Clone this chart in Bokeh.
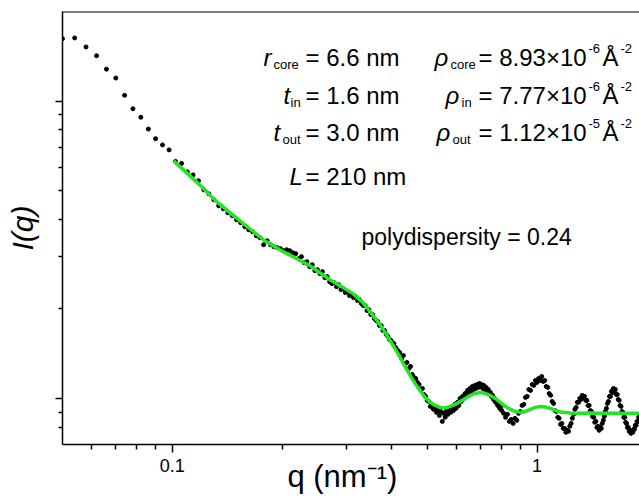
from bokeh.plotting import figure
from bokeh.models import Label, Span, FixedTicker, Range1d
from bokeh.embed import file_html
from bokeh.resources import INLINE

# ---------------- data ----------------
q_low = [0.050, 0.054, 0.058, 0.062, 0.066, 0.070, 0.074, 0.078, 0.082, 0.086,
         0.090, 0.094, 0.098]
I_low = [16.2, 16.3, 15.2, 14.2, 12.8, 11.95, 10.45, 9.42, 8.82, 8.05,
         7.47, 7.12, 6.85]

q_mid = [0.102, 0.106, 0.110, 0.114, 0.118, 0.122, 0.126, 0.130, 0.134, 0.138,
         0.142, 0.146, 0.150, 0.154, 0.158, 0.162, 0.166, 0.170, 0.174, 0.178,
         0.182, 0.186, 0.190, 0.194, 0.198, 0.202, 0.206, 0.210, 0.214, 0.218,
         0.222, 0.226, 0.230, 0.234, 0.238, 0.242, 0.246, 0.250, 0.254, 0.258,
         0.262, 0.266, 0.270, 0.274, 0.278, 0.282, 0.286, 0.290, 0.294, 0.298,
         0.302, 0.306, 0.310, 0.314, 0.318, 0.322, 0.326, 0.330, 0.334, 0.338,
         0.342, 0.346, 0.350, 0.354, 0.358, 0.362, 0.366, 0.370, 0.374, 0.378,
         0.382, 0.386, 0.390, 0.394, 0.398]
I_mid = [6.267, 6.171, 5.778, 5.645, 5.390, 5.028, 4.875, 4.654, 4.443, 4.341,
         4.209, 4.113, 3.988, 3.897, 3.778, 3.691, 3.635, 3.524, 3.470, 3.287,
         3.390, 3.287, 3.236, 3.211, 3.187, 3.138, 3.162, 3.138, 3.090, 3.066,
         2.950, 2.996, 2.860, 2.882, 2.773, 2.816, 2.689, 2.709, 2.627, 2.668,
         2.547, 2.567, 2.470, 2.432, 2.451, 2.376, 2.413, 2.322, 2.340, 2.269,
         2.286, 2.217, 2.234, 2.183, 2.200, 2.133, 2.149, 2.084, 2.052, 2.052,
         1.974, 1.989, 1.914, 1.914, 1.856, 1.828, 1.813, 1.758, 1.758, 1.692,
         1.692, 1.640, 1.615, 1.578, 1.566]

q_dip = [0.405, 0.410, 0.415, 0.420, 0.425, 0.430, 0.435, 0.440, 0.445, 0.450,
         0.455, 0.460, 0.465, 0.470, 0.475, 0.480, 0.485, 0.490, 0.495, 0.500,
         0.505, 0.510, 0.515, 0.520, 0.525, 0.530, 0.535, 0.540, 0.545, 0.550,
         0.555, 0.560, 0.565, 0.570, 0.575, 0.580, 0.585, 0.590, 0.595, 0.600,
         0.605, 0.610, 0.615, 0.620, 0.625, 0.630, 0.635, 0.640, 0.645, 0.650,
         0.655, 0.660, 0.665, 0.670, 0.675, 0.680, 0.685, 0.690, 0.695, 0.700,
         0.705, 0.710, 0.715, 0.720, 0.725, 0.730, 0.735, 0.740, 0.745, 0.750,
         0.755, 0.760, 0.765, 0.770, 0.775, 0.780, 0.785, 0.790, 0.795, 0.800]
I_dip = [1.530, 1.483, 1.449, 1.427, 1.362, 1.394, 1.311, 1.321, 1.261, 1.281,
         1.204, 1.176, 1.167, 1.132, 1.114, 1.072, 1.080, 1.031, 1.016, 0.985,
         0.977, 0.940, 0.955, 0.919, 0.933, 0.898, 0.911, 0.877, 0.904, 0.837,
         0.891, 0.864, 0.911, 0.884, 0.919, 0.898, 0.933, 0.911, 0.955, 0.926,
         0.970, 0.947, 1.000, 0.977, 1.016, 1.000, 1.039, 1.024, 1.064, 1.039,
         1.080, 1.056, 1.097, 1.072, 1.106, 1.080, 1.114, 1.089, 1.123, 1.097,
         1.114, 1.080, 1.106, 1.072, 1.089, 1.056, 1.072, 1.039, 1.048, 1.016,
         1.024, 0.992, 1.000, 0.970, 0.977, 0.947, 0.955, 0.926, 0.933, 0.911]

q_high = [0.81, 0.82, 0.83, 0.84, 0.85, 0.86, 0.87, 0.88, 0.89, 0.90,
          0.91, 0.92, 0.93, 0.94, 0.95, 0.96, 0.97, 0.98, 0.99, 1.00,
          1.01, 1.02, 1.03, 1.04, 1.05, 1.06, 1.07, 1.08, 1.09, 1.10,
          1.11, 1.12, 1.13, 1.14, 1.15, 1.16, 1.17, 1.18, 1.19, 1.20,
          1.21, 1.22, 1.23, 1.24, 1.25, 1.26, 1.27, 1.28, 1.29, 1.30,
          1.31, 1.32, 1.33, 1.34, 1.35, 1.36, 1.37, 1.38, 1.39, 1.40,
          1.41, 1.42, 1.43, 1.44, 1.45, 1.46, 1.47, 1.48, 1.49, 1.50,
          1.51, 1.52, 1.53, 1.54, 1.55, 1.56, 1.57, 1.58, 1.59, 1.60,
          1.61, 1.62, 1.63, 1.64, 1.65, 1.66, 1.67, 1.68, 1.69, 1.70,
          1.71, 1.72, 1.73, 1.74, 1.75, 1.76, 1.77, 1.78, 1.79, 1.80,
          1.81, 1.82, 1.83, 1.84, 1.85, 1.86, 1.87, 1.88, 1.89, 1.90]
I_high = [0.891, 0.864, 0.884, 0.837, 0.850, 0.824, 0.857, 0.844, 0.891, 0.904,
          0.947, 0.955, 1.008, 1.016, 1.072, 1.064, 1.114, 1.106, 1.149, 1.132,
          1.167, 1.149, 1.185, 1.140, 1.149, 1.097, 1.089, 1.039, 1.024, 0.977,
          0.962, 0.911, 0.904, 0.864, 0.857, 0.818, 0.824, 0.793, 0.793, 0.769,
          0.781, 0.775, 0.806, 0.824, 0.857, 0.884, 0.919, 0.933, 0.970, 0.970,
          1.000, 0.992, 1.024, 1.008, 1.016, 0.985, 0.985, 0.947, 0.947, 0.911,
          0.904, 0.870, 0.864, 0.831, 0.837, 0.799, 0.806, 0.781, 0.799, 0.793,
          0.824, 0.844, 0.870, 0.904, 0.926, 0.962, 0.977, 1.016, 1.016, 1.056,
          1.048, 1.080, 1.056, 1.072, 1.031, 1.031, 0.992, 0.985, 0.947, 0.940,
          0.904, 0.898, 0.864, 0.864, 0.831, 0.824, 0.799, 0.799, 0.775, 0.781,
          0.763, 0.775, 0.769, 0.787, 0.787, 0.812, 0.812, 0.837, 0.837, 0.864]

q_fit = [0.1008, 0.1081, 0.1189, 0.1307, 0.1464, 0.1631, 0.1793, 0.1972, 0.2168,
         0.2384, 0.2540, 0.2706, 0.2883, 0.3129, 0.3313, 0.3486, 0.3713, 0.3879,
         0.4081, 0.4214, 0.4346, 0.4489, 0.4631, 0.4782, 0.4934, 0.5095, 0.5256,
         0.5427, 0.5600, 0.5782, 0.5965, 0.6159, 0.6355, 0.6562, 0.6769, 0.6990,
         0.7212, 0.7446, 0.7683, 0.7932, 0.8184, 0.8450, 0.8718, 0.9001, 0.9288,
         0.9589, 0.9893, 1.021, 1.054, 1.088, 1.123, 1.159, 1.235, 1.315, 1.401,
         1.493, 1.694, 1.910]
I_fit = [6.291, 5.822, 5.226, 4.654, 4.144, 3.720, 3.390, 3.162, 2.973,
         2.795, 2.647, 2.508, 2.395, 2.251, 2.116, 1.958, 1.771, 1.627,
         1.472, 1.373, 1.281, 1.195, 1.123, 1.064, 1.008, 0.970, 0.947,
         0.933, 0.929, 0.940, 0.955, 0.977, 1.000, 1.024, 1.039, 1.048,
         1.039, 1.024, 1.000, 0.970, 0.940, 0.919, 0.904, 0.898, 0.904,
         0.919, 0.933, 0.940, 0.936, 0.926, 0.911, 0.901, 0.894, 0.891, 0.894,
         0.891, 0.891, 0.891]

x_major = [0.1, 1]
x_minor = [0.06, 0.07, 0.08, 0.09, 0.2, 0.3, 0.4, 0.5, 0.6, 0.7, 0.8, 0.9]
y_major = [1, 10]
y_minor = [0.8, 0.9, 2, 3, 4, 5, 6, 7, 8, 9]

q_data = q_low + q_mid + q_dip + q_high
I_data = I_low + I_mid + I_dip + I_high

# ---------------- figure ----------------
FONT = "Liberation Sans"
p = figure(width=639, height=499, x_axis_type="log", y_axis_type="log",
           x_range=Range1d(0.05, 1.91), y_range=Range1d(0.7, 20),
           output_backend="svg", toolbar_location=None,
           min_border_left=62, min_border_right=0, min_border_top=11,
           min_border_bottom=55)
p.outline_line_color = None
p.background_fill_color = "white"
p.border_fill_color = "white"
p.xgrid.visible = False
p.ygrid.visible = False

p.scatter(q_data, I_data, size=4, color="black", marker="circle")
p.line(q_fit, I_fit, line_color="#22e622", line_width=3.5)

p.add_layout(Span(location=20, dimension="width", line_color="black",
                  line_width=2))

xa = p.xaxis[0]
xa.ticker = FixedTicker(ticks=x_major, minor_ticks=x_minor)
xa.major_label_overrides = {0.1: "0.1", 1: "1"}
xa.major_label_text_font = FONT
xa.major_label_text_font_size = "18px"
xa.major_label_text_color = "black"
xa.major_label_standoff = 6
xa.major_tick_out = 8
xa.major_tick_in = 0
xa.minor_tick_out = 5
xa.minor_tick_in = 0
xa.axis_label = "q (nm\u207b\u00b9)\u00a0\u00a0"
xa.axis_label_text_font = FONT
xa.axis_label_text_font_size = "31px"
xa.axis_label_text_font_style = "normal"
xa.axis_label_text_color = "black"
xa.axis_label_standoff = -16

ya = p.yaxis[0]
ya.ticker = FixedTicker(ticks=y_major, minor_ticks=y_minor)
ya.major_label_text_font_size = "0px"
ya.major_label_text_color = None
ya.major_tick_out = 7
ya.major_tick_in = 0
ya.minor_tick_out = 4
ya.minor_tick_in = 0
ya.axis_label = "I(q)"
ya.axis_label_text_font = FONT
ya.axis_label_text_font_size = "30px"
ya.axis_label_text_font_style = "italic"
ya.axis_label_text_color = "black"
ya.axis_label_standoff = 17

for ax in (xa, ya):
    ax.axis_line_width = 1.5
    ax.axis_line_color = "black"
    ax.major_tick_line_width = 1.5
    ax.minor_tick_line_width = 1.5
    ax.major_tick_line_color = "black"
    ax.minor_tick_line_color = "black"

FL, FB = 62, 444  # frame left / bottom in page pixels


def lab(text, X, Yb, size, style="normal", align="left"):
    p.add_layout(Label(x=X - FL, y=FB - Yb, x_units="screen", y_units="screen",
                       text=text, text_font=FONT, text_font_size=f"{size}px",
                       text_font_style=style, text_align=align,
                       text_baseline="alphabetic", text_color="black"))


M, S, U = 24, 13, 13
# left column
lab("r", 263, 57, M, "italic")
lab("core", 273, 64, S)
lab("= 6.6 nm", 305, 57, M)
lab("t", 283, 95, M, "italic")
lab("in", 290, 102, S)
lab("= 1.6 nm", 305, 95, M)
lab("t", 273, 132, M, "italic")
lab("out", 282, 139, S)
lab("= 3.0 nm", 305, 132, M)
lab("L", 289, 176, M, "italic")
lab("= 210 nm", 305, 176, M)
# right column
rows = [("core", 434, 450, "= 8.93\u00d710", "-6", 57),
        ("in", 445, 461, "= 7.77\u00d710", "-6", 95),
        ("out", 436, 452, "= 1.12\u00d710", "-5", 132)]
for sub, xr, xs, val, ex, yb in rows:
    lab("\u03c1", xr, yb, M, "italic")
    lab(sub, xs, yb + 7, S)
    lab(val, 478, yb, M)
    lab(ex, 588, yb - 9, U)
    lab("\u00c5", 602, yb, M)
    lab("-2", 620, yb - 9, U)

lab("polydispersity = 0.24", 361, 236, 23)

open("out.html", "w").write(file_html(p, INLINE))
